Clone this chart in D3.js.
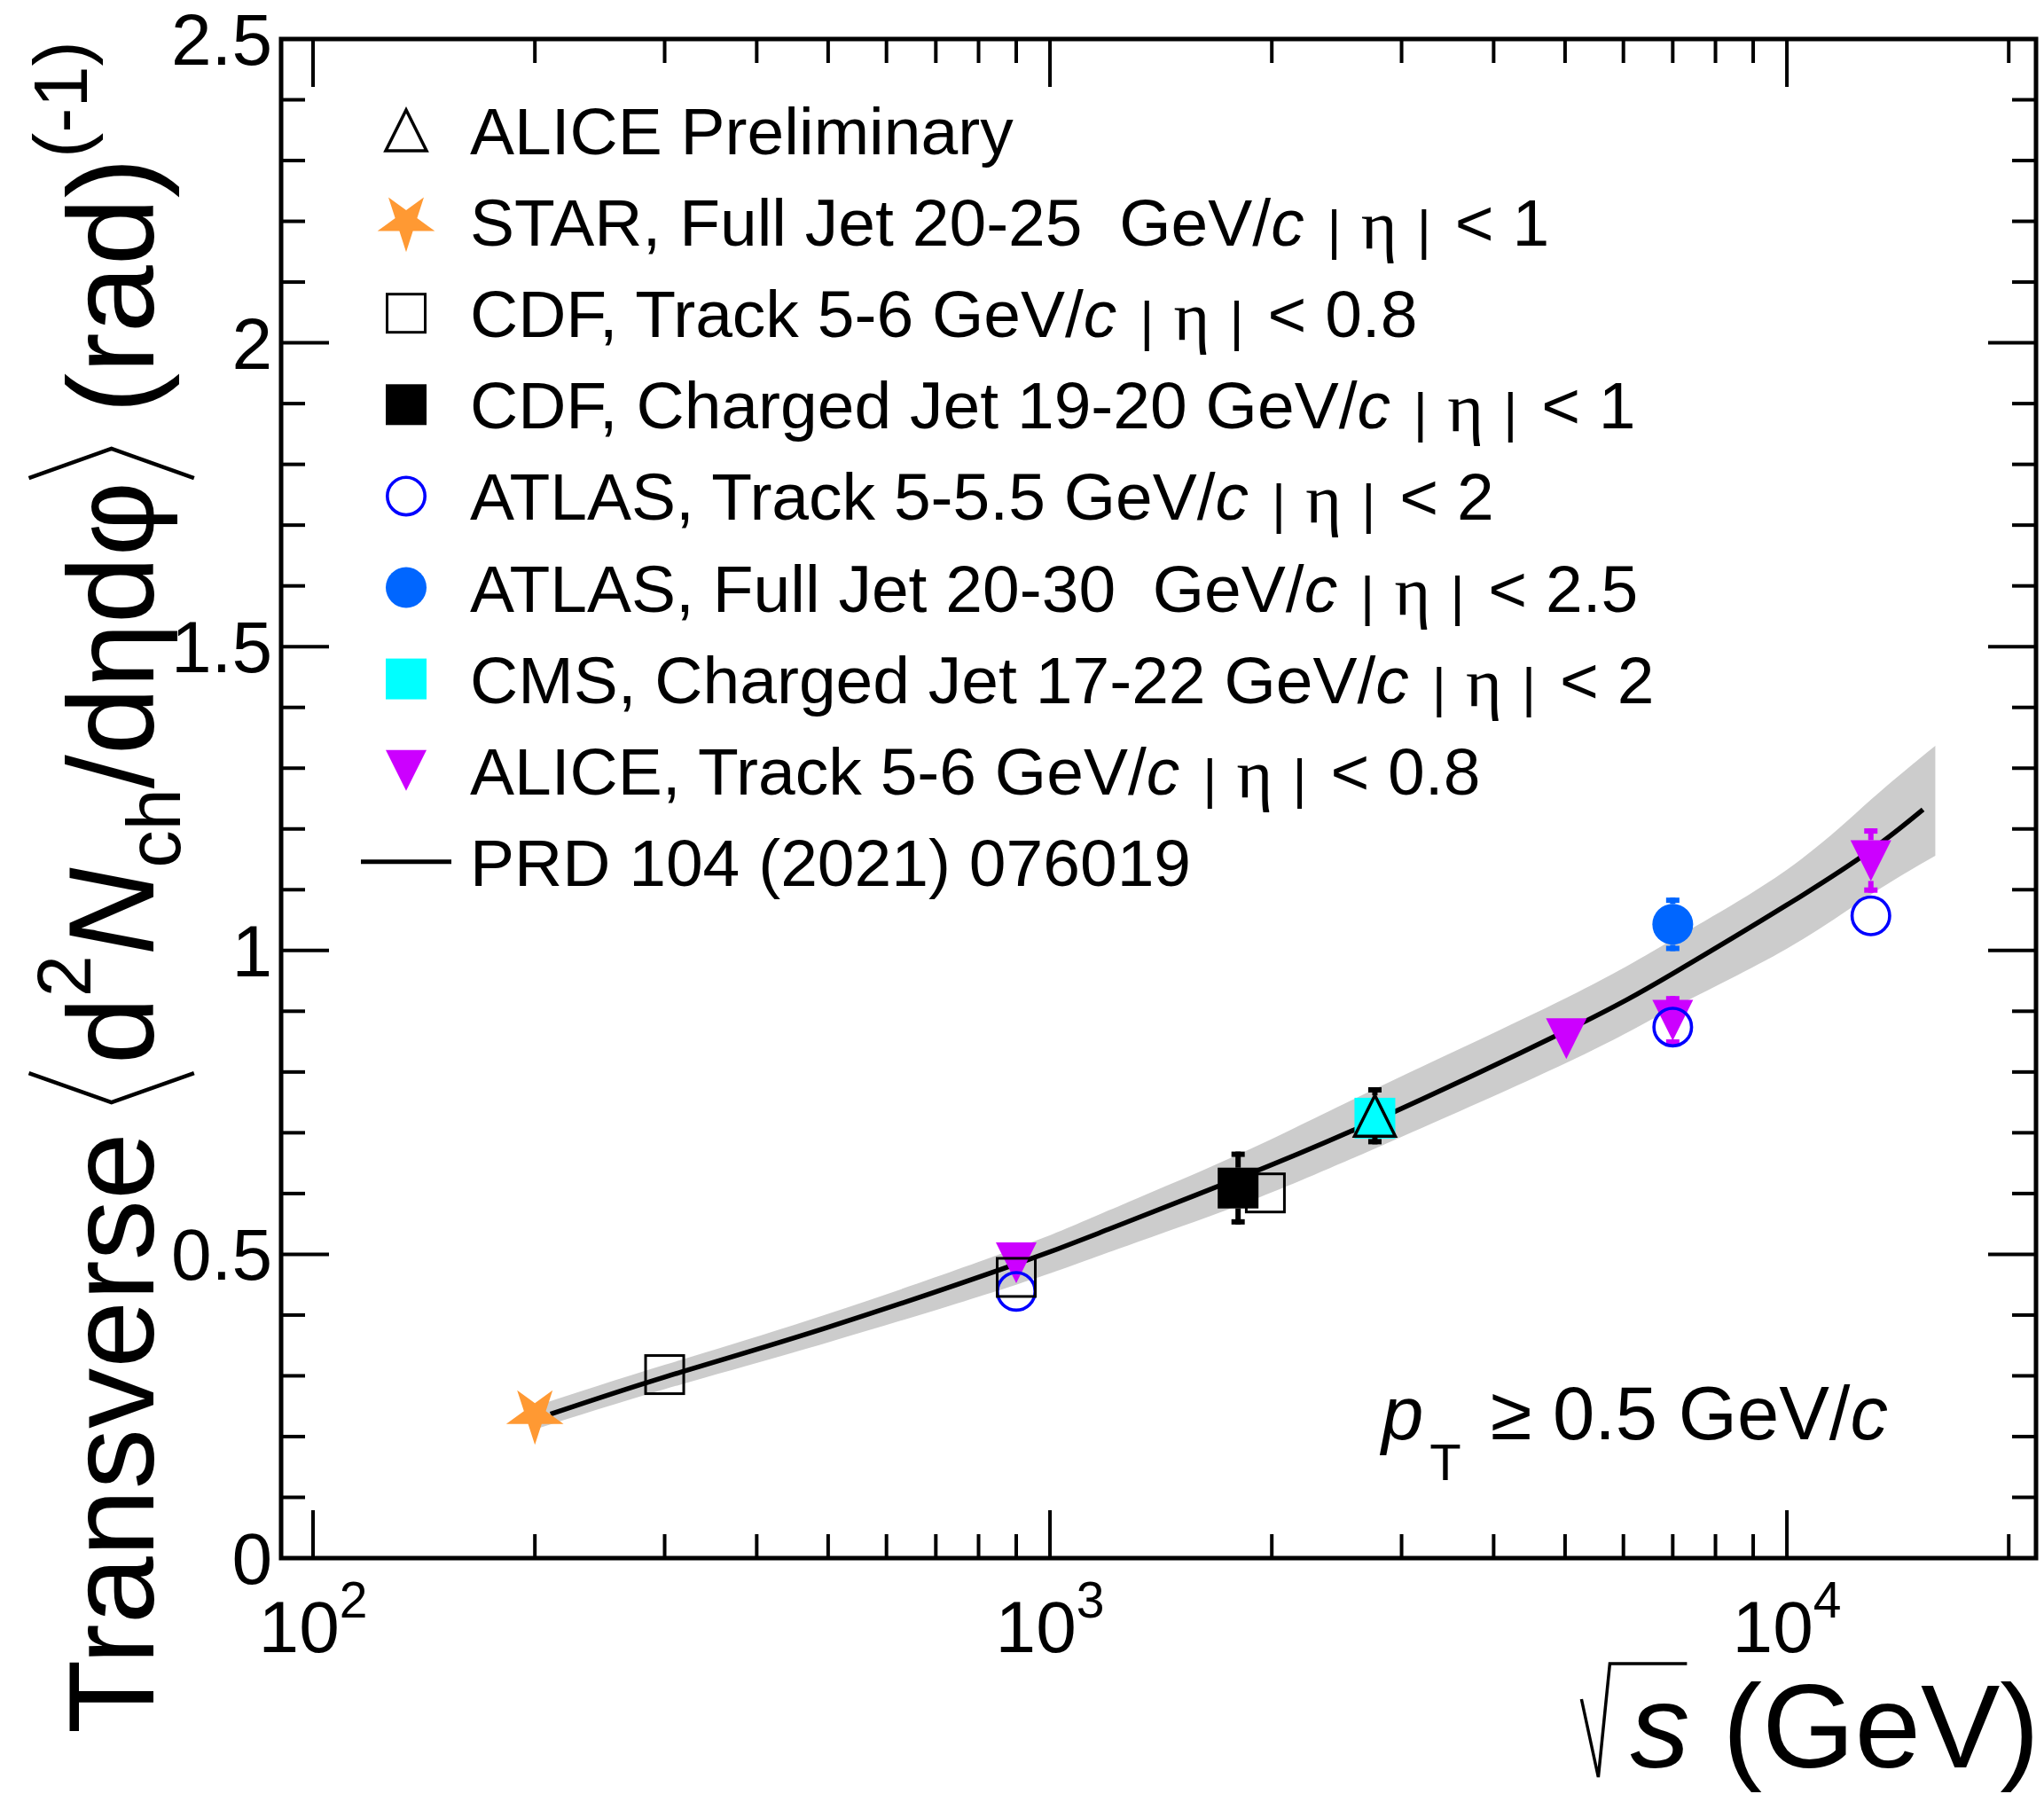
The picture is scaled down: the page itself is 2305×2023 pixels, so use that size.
<!DOCTYPE html>
<html><head><meta charset="utf-8">
<script src="https://cdn.jsdelivr.net/npm/d3@7"></script>
<style>
html,body{margin:0;padding:0;background:#fff;}
svg{display:block;}
text{font-family:"Liberation Sans",Arial,Helvetica,sans-serif;white-space:pre;fill:#000;}
</style></head><body>
<svg id="c" width="2305" height="2023"></svg>
<script>
// ---------------- data ----------------
const xMajorTicks = [100, 1000, 10000];
const xTickExponents = ["2", "3", "4"];
const yMajorTicks = [0, 0.5, 1, 1.5, 2, 2.5];
const yTickLabels = ["0", "0.5", "1", "1.5", "2", "2.5"];

const starX = [200], starY = [0.236];
const cdfTrackX = [300, 900, 1960], cdfTrackY = [0.302, 0.462, 0.601];
const cdfJetX = [1800], cdfJetY = [0.609], cdfJetErr = [0.06];
const atlasTrackX = [900, 7000, 13000], atlasTrackY = [0.439, 0.874, 1.057];
const atlasJetX = [7000], atlasJetY = [1.043], atlasJetErr = [0.044];
const cmsX = [2760], cmsY = [0.724];
const aliceTrackX = [900, 5020, 7000, 13000];
const aliceTrackY = [0.486, 0.855, 0.885, 1.148];
const aliceTrackErr = [0, 0, 0.04, 0.053];
const alicePrelX = [2760], alicePrelY = [0.728], alicePrelErr = [0.047];

const modelX = [210, 300, 500, 900, 1200, 1800, 2760, 5020, 7000, 10000, 13000, 15300];
const modelY = [0.237, 0.298, 0.380, 0.484, 0.541, 0.625, 0.720, 0.868, 0.962, 1.075, 1.165, 1.232];
const bandX  = [200, 300, 500, 900, 1200, 1800, 2760, 5020, 7000, 10000, 13000, 15900];
const bandLo = [0.212, 0.278, 0.355, 0.450, 0.503, 0.580, 0.674, 0.815, 0.905, 1.003, 1.092, 1.156];
const bandHi = [0.250, 0.318, 0.402, 0.510, 0.572, 0.664, 0.772, 0.922, 1.018, 1.133, 1.248, 1.337];

const legendMarkers = ["triOpen", "star", "sqOpen", "sqFill", "circOpen", "circFill", "sqCyan", "triDown", "line"];
const legendNames = ["ALICE Preliminary", "STAR, Full Jet 20-25  GeV/", "CDF, Track 5-6 GeV/",
  "CDF, Charged Jet 19-20 GeV/", "ATLAS, Track 5-5.5 GeV/", "ATLAS, Full Jet 20-30  GeV/",
  "CMS, Charged Jet 17-22 GeV/", "ALICE, Track 5-6 GeV/", "PRD 104 (2021) 076019"];
const legendEtaCut = [null, "1", "0.8", "1", "2", "2.5", "2", "0.8", null];

// ---------------- layout ----------------
const L = 317, R = 2296, T = 44, B = 1757;
const svg = d3.select("#c");
const x = d3.scaleLog().domain([90.5, 21780]).range([L, R]);
const y = d3.scaleLinear().domain([0, 2.5]).range([B, T]);

const COL = {orange: "#ff9933", blue: "#0000ff", azure: "#0066ff", cyan: "#00ffff", magenta: "#cc00ff"};
const MS = 46, HALF = MS / 2;

// band + curve
const area = d3.area().x((d, i) => x(bandX[i])).y0((d, i) => y(bandLo[i])).y1((d, i) => y(bandHi[i])).curve(d3.curveNatural);
svg.append("path").attr("d", area(bandX)).attr("fill", "#cccccc");
const line = d3.line().x((d, i) => x(modelX[i])).y((d, i) => y(modelY[i])).curve(d3.curveNatural);
svg.append("path").attr("d", line(modelX)).attr("fill", "none").attr("stroke", "#000").attr("stroke-width", 5.5);

// markers
function triPath(up) {
  return up ? `M${-HALF},${HALF}L${HALF},${HALF}L0,${-HALF}Z` : `M${-HALF},${-HALF}L${HALF},${-HALF}L0,${HALF}Z`;
}
function drawMarker(g, type, cx, cy) {
  const m = g.append("g").attr("transform", `translate(${cx},${cy})`);
  switch (type) {
    case "triOpen": m.append("path").attr("d", triPath(true)).attr("fill", "none").attr("stroke", "#000").attr("stroke-width", 3.5); break;
    case "triDown": m.append("path").attr("d", triPath(false)).attr("fill", COL.magenta); break;
    case "star": m.append("path").attr("d", d3.symbol(d3.symbolStar, 1300)()).attr("transform", "rotate(180)").attr("fill", COL.orange); break;
    case "sqOpen": m.append("rect").attr("x", -HALF + 1.5).attr("y", -HALF + 1.5).attr("width", MS - 3).attr("height", MS - 3).attr("fill", "none").attr("stroke", "#000").attr("stroke-width", 3); break;
    case "sqFill": m.append("rect").attr("x", -HALF).attr("y", -HALF).attr("width", MS).attr("height", MS).attr("fill", "#000"); break;
    case "sqCyan": m.append("rect").attr("x", -HALF).attr("y", -HALF).attr("width", MS).attr("height", MS).attr("fill", COL.cyan); break;
    case "circOpen": m.append("circle").attr("r", HALF - 1.8).attr("fill", "none").attr("stroke", COL.blue).attr("stroke-width", 3.6); break;
    case "circFill": m.append("circle").attr("r", HALF).attr("fill", COL.azure); break;
    case "line": m.append("line").attr("x1", -51).attr("x2", 51).attr("stroke", "#000").attr("stroke-width", 5); break;
  }
}
function drawErr(g, xs, ys, es, color) {
  xs.forEach((xv, i) => {
    const e = es[i]; if (!e) return;
    const cx = x(xv), cy = y(ys[i]), yt = y(ys[i] + e), yb = y(ys[i] - e);
    g.append("line").attr("x1", cx).attr("x2", cx).attr("y1", yt).attr("y2", cy - HALF).attr("stroke", color).attr("stroke-width", 6);
    g.append("line").attr("x1", cx).attr("x2", cx).attr("y1", cy + HALF).attr("y2", yb).attr("stroke", color).attr("stroke-width", 6);
    g.append("rect").attr("x", cx - 7.5).attr("y", yt).attr("width", 15).attr("height", 6).attr("fill", color);
    g.append("rect").attr("x", cx - 7.5).attr("y", yb - 6).attr("width", 15).attr("height", 6).attr("fill", color);
  });
}
function series(xs, ys, type, errs, color) {
  const g = svg.append("g");
  if (errs) drawErr(g, xs, ys, errs, color);
  xs.forEach((xv, i) => drawMarker(g, type, x(xv), y(ys[i])));
}
series(aliceTrackX, aliceTrackY, "triDown", aliceTrackErr, COL.magenta);
series(atlasTrackX, atlasTrackY, "circOpen");
series(atlasJetX, atlasJetY, "circFill", atlasJetErr, COL.azure);
series(cdfTrackX, cdfTrackY, "sqOpen");
series(cdfJetX, cdfJetY, "sqFill", cdfJetErr, "#000");
series(cmsX, cmsY, "sqCyan");
series(starX, starY, "star");
series(alicePrelX, alicePrelY, "triOpen", alicePrelErr, "#000");

// frame + ticks
const ax = svg.append("g").attr("stroke", "#000");
const TW = 4, MAJ = 54, MIN = 27;
const xMinor = [];
[100, 1000, 10000].forEach(d => { for (let k = 2; k <= 9; k++) { const v = d * k; if (v < 21780) xMinor.push(v); } });
xMajorTicks.forEach(v => {
  ax.append("line").attr("x1", x(v)).attr("x2", x(v)).attr("y1", B).attr("y2", B - MAJ).attr("stroke-width", TW);
  ax.append("line").attr("x1", x(v)).attr("x2", x(v)).attr("y1", T).attr("y2", T + MAJ).attr("stroke-width", TW);
});
xMinor.forEach(v => {
  ax.append("line").attr("x1", x(v)).attr("x2", x(v)).attr("y1", B).attr("y2", B - MIN).attr("stroke-width", TW);
  ax.append("line").attr("x1", x(v)).attr("x2", x(v)).attr("y1", T).attr("y2", T + MIN).attr("stroke-width", TW);
});
d3.range(0, 26).forEach(k => {
  const v = k / 10, len = (k % 5 === 0) ? MAJ : MIN;
  ax.append("line").attr("x1", L).attr("x2", L + len).attr("y1", y(v)).attr("y2", y(v)).attr("stroke-width", TW);
  ax.append("line").attr("x1", R).attr("x2", R - len).attr("y1", y(v)).attr("y2", y(v)).attr("stroke-width", TW);
});
svg.append("rect").attr("x", L).attr("y", T).attr("width", R - L).attr("height", B - T)
  .attr("fill", "none").attr("stroke", "#000").attr("stroke-width", 5);

// tick labels
yMajorTicks.forEach((v, i) => {
  svg.append("text").attr("x", 307).attr("y", y(v) + 29).attr("text-anchor", "end")
    .style("font-size", "82px").text(yTickLabels[i]);
});
xMajorTicks.forEach((v, i) => {
  const t = svg.append("text").attr("x", x(v)).attr("y", 1863).attr("text-anchor", "middle").style("font-size", "82px");
  t.append("tspan").text("10");
  t.append("tspan").attr("dy", -39).style("font-size", "57px").text(xTickExponents[i]);
});

// x title
const xt = svg.append("text").attr("x", 2300).attr("y", 1993).attr("text-anchor", "end").style("font-size", "134px");
const sSpan = xt.append("tspan").style("font-style", "italic").text("s");
xt.append("tspan").text(" (GeV)");
{
  const bb = sSpan.node().getBBox();
  const sx = bb.x + 4;
  svg.append("path").attr("d", `M${sx - 59},1916L${sx - 40},2004L${sx - 27},1876L${sx + 60},1876`)
    .attr("fill", "none").attr("stroke", "#000").attr("stroke-width", 3.5).attr("stroke-linejoin", "miter");
}

// y title (rotated, built piece by piece, fitted to the reference length)
function yTitle(F) {
  const g = svg.append("g").attr("transform", "translate(173,1955) rotate(-90)");
  let cur = 0;
  const pieces = [
    {t: "Transverse", s: F},
    {gap: 0.22 * F},
    {br: "<"},
    {t: "d", s: F},
    {t: "2", s: 0.62 * F, dy: -0.52 * F},
    {t: "N", s: F, it: true},
    {t: "ch", s: 0.62 * F, dy: 0.22 * F},
    {t: "/d", s: F},
    {t: "η", s: 0.95 * F},
    {t: "d", s: F},
    {t: "φ", s: 0.95 * F},
    {br: ">"},
    {gap: 0.22 * F},
    {t: "(rad)", s: F},
    {t: "(-1)", s: 0.62 * F, dy: -0.55 * F}
  ];
  pieces.forEach(p => {
    if (p.gap) { cur += p.gap; return; }
    if (p.br) {
      const k = F / 140, w = 38 * k, top = -144 * k, bot = 47 * k, mid = (top + bot) / 2;
      const d = p.br === "<" ? `M${cur + w},${top}L${cur + 4},${mid}L${cur + w},${bot}` : `M${cur + 4},${top}L${cur + w},${mid}L${cur + 4},${bot}`;
      g.append("path").attr("d", d).attr("fill", "none").attr("stroke", "#000").attr("stroke-width", 4.5);
      cur += w + 10 * k; return;
    }
    const t = g.append("text").attr("x", cur).attr("y", p.dy || 0).style("font-size", p.s + "px").text(p.t);
    if (p.it) t.style("font-style", "italic");
    cur += t.node().getComputedTextLength();
  });
  return {g, len: cur};
}
{
  let r = yTitle(140);
  const target = 1955 - 46;
  if (r.len > target) { r.g.remove(); r = yTitle(140 * target / r.len); }
}

// legend
const LX = 458, TX = 530, LY0 = 147, LDY = 103.1;
legendNames.forEach((name, i) => {
  const cy = LY0 + i * LDY;
  drawMarker(svg, legendMarkers[i], LX, cy);
  const t = svg.append("text").attr("x", TX).attr("y", cy + 27).style("font-size", "75px");
  t.append("tspan").text(name);
  if (legendEtaCut[i] !== null) {
    t.append("tspan").style("font-style", "italic").text("c");
    t.append("tspan").text(" ");
    t.append("tspan").attr("dx", 5).attr("dy", 3).style("font-size", "62px").text("| ");
    t.append("tspan").attr("dx", 5).style("font-family", "'Liberation Serif','DejaVu Serif',serif").style("font-size", "78px").text("η");
    t.append("tspan").attr("dx", 5).style("font-size", "62px").text(" |");
    t.append("tspan").attr("dx", 6).attr("dy", -3).text(" < " + legendEtaCut[i]);
  }
});

// pT annotation
{
  const t = svg.append("text").attr("x", 1558).attr("y", 1623).style("font-size", "85px");
  t.append("tspan").style("font-style", "italic").text("p");
  t.append("tspan").attr("dx", 7).attr("dy", 46).style("font-size", "58px").text("T");
  t.append("tspan").attr("dx", 33).attr("dy", -46).text("\u2265 0.5 GeV/");
  t.append("tspan").style("font-style", "italic").text("c");
}
</script>
</body></html>
